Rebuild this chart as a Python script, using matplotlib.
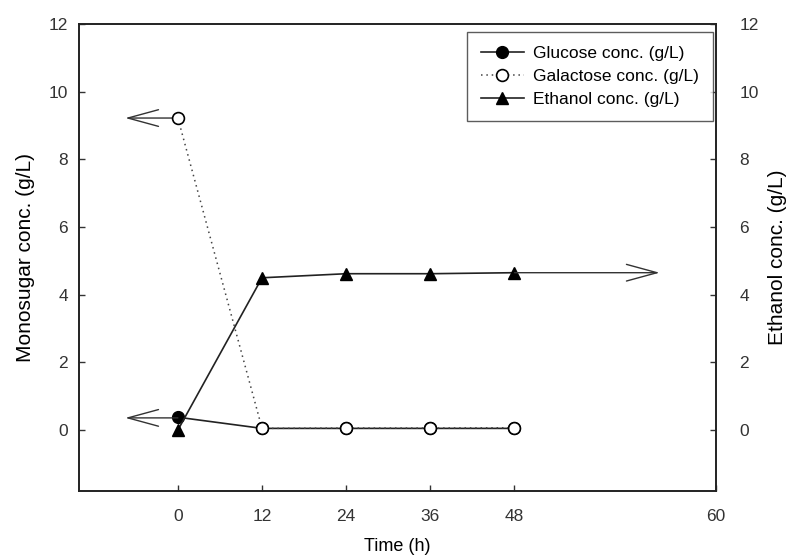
import matplotlib.pyplot as plt

plt.rcParams['font.family'] = ['Liberation Sans', 'DejaVu Sans']

# sampling times (h) and measured concentrations (g/L)
time_h = [0, 12, 24, 36, 48]
glucose = [0.38, 0.05, 0.05, 0.05, 0.05]
galactose = [9.22, 0.05, 0.06, 0.06, 0.07]
ethanol = [0.0, 4.5, 4.62, 4.62, 4.65]

x_ticks = [0, 12, 24, 36, 48]
x_labels = ['0', '12', '24', '36', '48', '60']
y_ticks = [0, 2, 4, 6, 8, 10, 12]

fig = plt.figure(figsize=(7.9, 5.57), dpi=100)
ax = fig.add_axes([0.1, 0.1185, 0.806, 0.8385])
ax2 = ax.twinx()

xmin, xmax = -14.1, 76.7
ymin, ymax = -1.8, 12

ax.plot(time_h, glucose, color='#222222', lw=1.2, marker='o', ms=8.5,
        mfc='black', mec='black', label='Glucose conc. (g/L)', zorder=3)
ax.plot(time_h, galactose, color='#444444', lw=1.1, ls=(0, (1, 2.5)),
        marker='o', ms=8.5, mfc='white', mec='black', mew=1.2,
        label='Galactose conc. (g/L)', zorder=4)
ax2.plot(time_h, ethanol, color='#222222', lw=1.2, marker='^', ms=8,
         mfc='black', mec='black', label='Ethanol conc. (g/L)', zorder=3)

# arrows indicating which axis each curve belongs to
arrow = dict(arrowstyle='->,head_length=2.2,head_width=0.6', color='#333333',
             lw=1.0, shrinkA=0, shrinkB=0)
ax.annotate('', xy=(-7.5, galactose[0]), xytext=(0, galactose[0]), arrowprops=arrow)
ax.annotate('', xy=(-7.5, glucose[0] - 0.02), xytext=(0, glucose[0] - 0.02), arrowprops=arrow)
ax2.annotate('', xy=(68.7, ethanol[-1]), xytext=(time_h[-1], ethanol[-1]), arrowprops=arrow)

for a in (ax, ax2):
    a.set_xlim(xmin, xmax)
    a.set_ylim(ymin, ymax)
    a.set_yticks(y_ticks)
    a.tick_params(direction='in', length=4, width=1, labelsize=12.5, colors='#333333')

ax.set_xticks(x_ticks + [xmax])
ax.set_xticklabels(x_labels)
ax.tick_params(axis='y', pad=8)
ax.tick_params(axis='x', pad=13)
ax2.tick_params(axis='y', pad=17)

for a in (ax, ax2):
    for s in a.spines.values():
        s.set_linewidth(1.2)
        s.set_color('#222222')

ax.set_xlabel('Time (h)', fontsize=13, labelpad=10)
ax.set_ylabel('Monosugar conc. (g/L)', fontsize=15, labelpad=10)
ax2.set_ylabel('Ethanol conc. (g/L)', fontsize=15, labelpad=7, rotation=90)

h1, l1 = ax.get_legend_handles_labels()
h2, l2 = ax2.get_legend_handles_labels()
leg = ax2.legend(h1 + h2, l1 + l2, loc='upper right', fontsize=12.5,
                 frameon=True, fancybox=False, edgecolor='#333333',
                 handlelength=2.5, handletextpad=0.5, labelspacing=0.45,
                 borderpad=0.8, borderaxespad=0, bbox_to_anchor=(0.995, 0.983))
leg.get_frame().set_linewidth(1.0)

fig.savefig('out.png', dpi=100)
